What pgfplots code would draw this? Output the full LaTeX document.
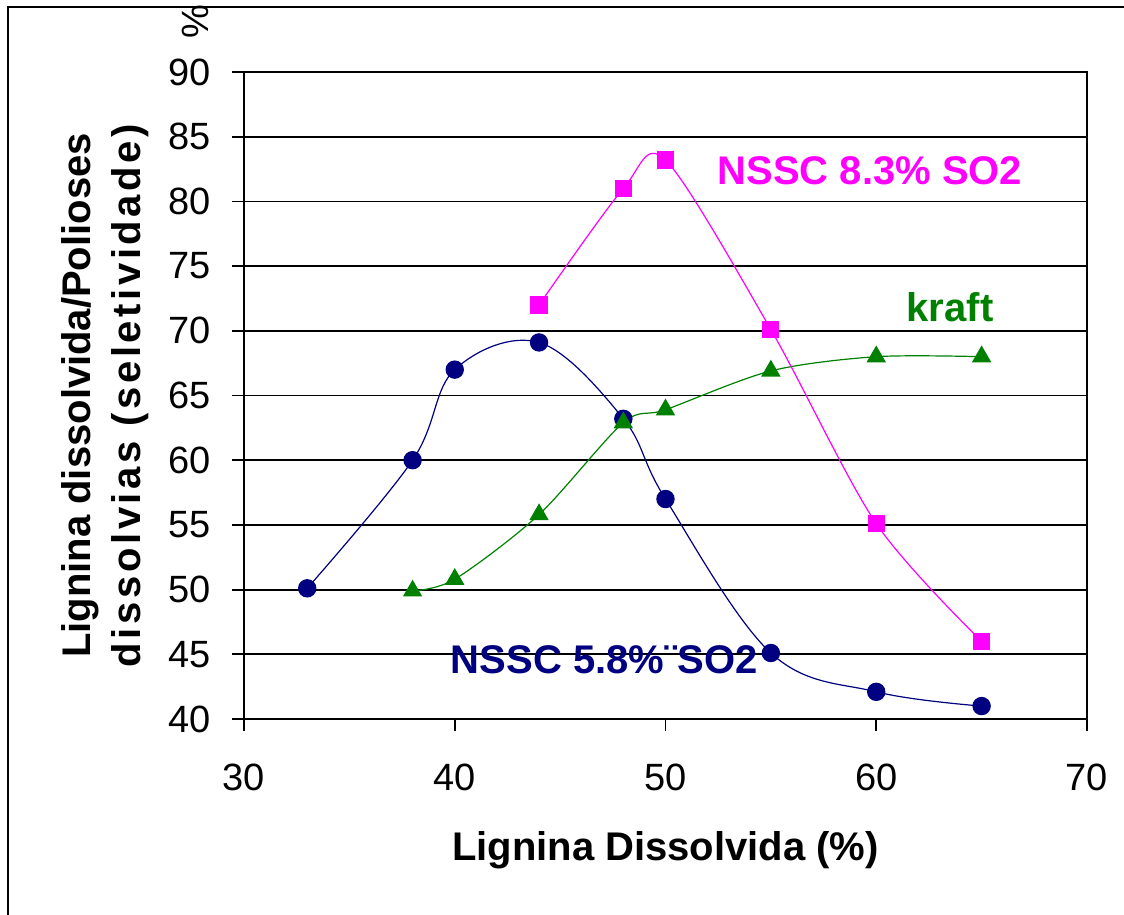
\documentclass[border=0pt]{standalone}
\usepackage{pgfplots}
\pgfplotsset{compat=1.18}
\usepackage{fontspec}
\setmainfont{Liberation Sans}
\definecolor{navyblue}{RGB}{0,0,128}
\definecolor{mag}{RGB}{255,0,255}
\definecolor{dgreen}{RGB}{0,128,0}
\begin{document}
\begin{tikzpicture}
\begin{axis}[
    scale only axis,
    width=421.5pt, height=323.5pt,
    xmin=30, xmax=70, ymin=40, ymax=90,
    xtick={30,40,...,70},
    ytick={40,45,...,90},
    xtick pos=bottom, ytick pos=left,
    tick align=outside,
    major tick length=6pt,
    ymajorgrids,
    grid style={black, line width=0.9pt},
    axis line style={black, line width=0.9pt},
    tick style={black, line width=0.9pt},
    /pgf/number format/assume math mode=true,
    ticklabel style={font=\fontsize{19}{19}\selectfont},
    xticklabel style={yshift=-13pt},
    yticklabel style={xshift=-7pt},
    xlabel={Lignina Dissolvida (\%)},
    xlabel style={font=\fontsize{20}{20}\selectfont\bfseries, anchor=center,
        at={(axis description cs:0.5,-0.2025)}},
    ylabel={Lignina dissolvida/Polioses\\{\addfontfeature{LetterSpace=9}dissolvias (seletividade)}},
    ylabel style={font=\fontsize{20}{25}\selectfont\bfseries, align=center,
        anchor=center, at={(axis description cs:-0.165,0.5)}},
    clip=false,
  ]
  % NSSC 5.8% SO2
  \addplot[navyblue, line width=0.6pt, smooth, tension=0.6,
      mark=*, mark size=4.3pt, mark options={fill=navyblue}] coordinates {
    (33,50.1) (38,60) (40,67) (44,69.1) (48,63.2) (50,57)
    (55,45.1) (60,42.1) (65,41)
  };
  % kraft
  \addplot[dgreen, line width=0.6pt, smooth, tension=0.5,
      mark=triangle*, mark size=5pt, mark options={fill=dgreen}] coordinates {
    (38,49.9) (40,50.8) (44,55.8) (48,62.9) (50,63.9)
    (55,66.9) (60,68) (65,68)
  };
  % NSSC 8.3% SO2
  \addplot[mag, line width=0.6pt, smooth, tension=0.5,
      mark=square*, mark size=4pt, mark options={fill=mag}] coordinates {
    (44,72) (48,81) (50,83.2) (55,70.1) (60,55.1) (65,46)
  };
  \node[mag, font=\fontsize{20}{20}\selectfont\bfseries] at (axis cs:59.7,82.4) {NSSC 8.3\% SO2};
  \node[dgreen, font=\fontsize{20}{20}\selectfont\bfseries] at (axis cs:63.5,71.8) {kraft};
  \node[navyblue, font=\fontsize{20}{20}\selectfont\bfseries] at (axis cs:47.1,44.6) {NSSC 5.8\%¨SO2};
\end{axis}
\node[rotate=90, font=\fontsize{19}{19}\selectfont] at (-24.5pt,348.5pt) {\%};
\draw[black, line width=0.9pt] (-118pt,-98pt) -- (-118pt,356pt) -- (440pt,356pt);
\pgfresetboundingbox
\useasboundingbox (-122pt,-98pt) rectangle (440pt,359.5pt);
\end{tikzpicture}
\end{document}
